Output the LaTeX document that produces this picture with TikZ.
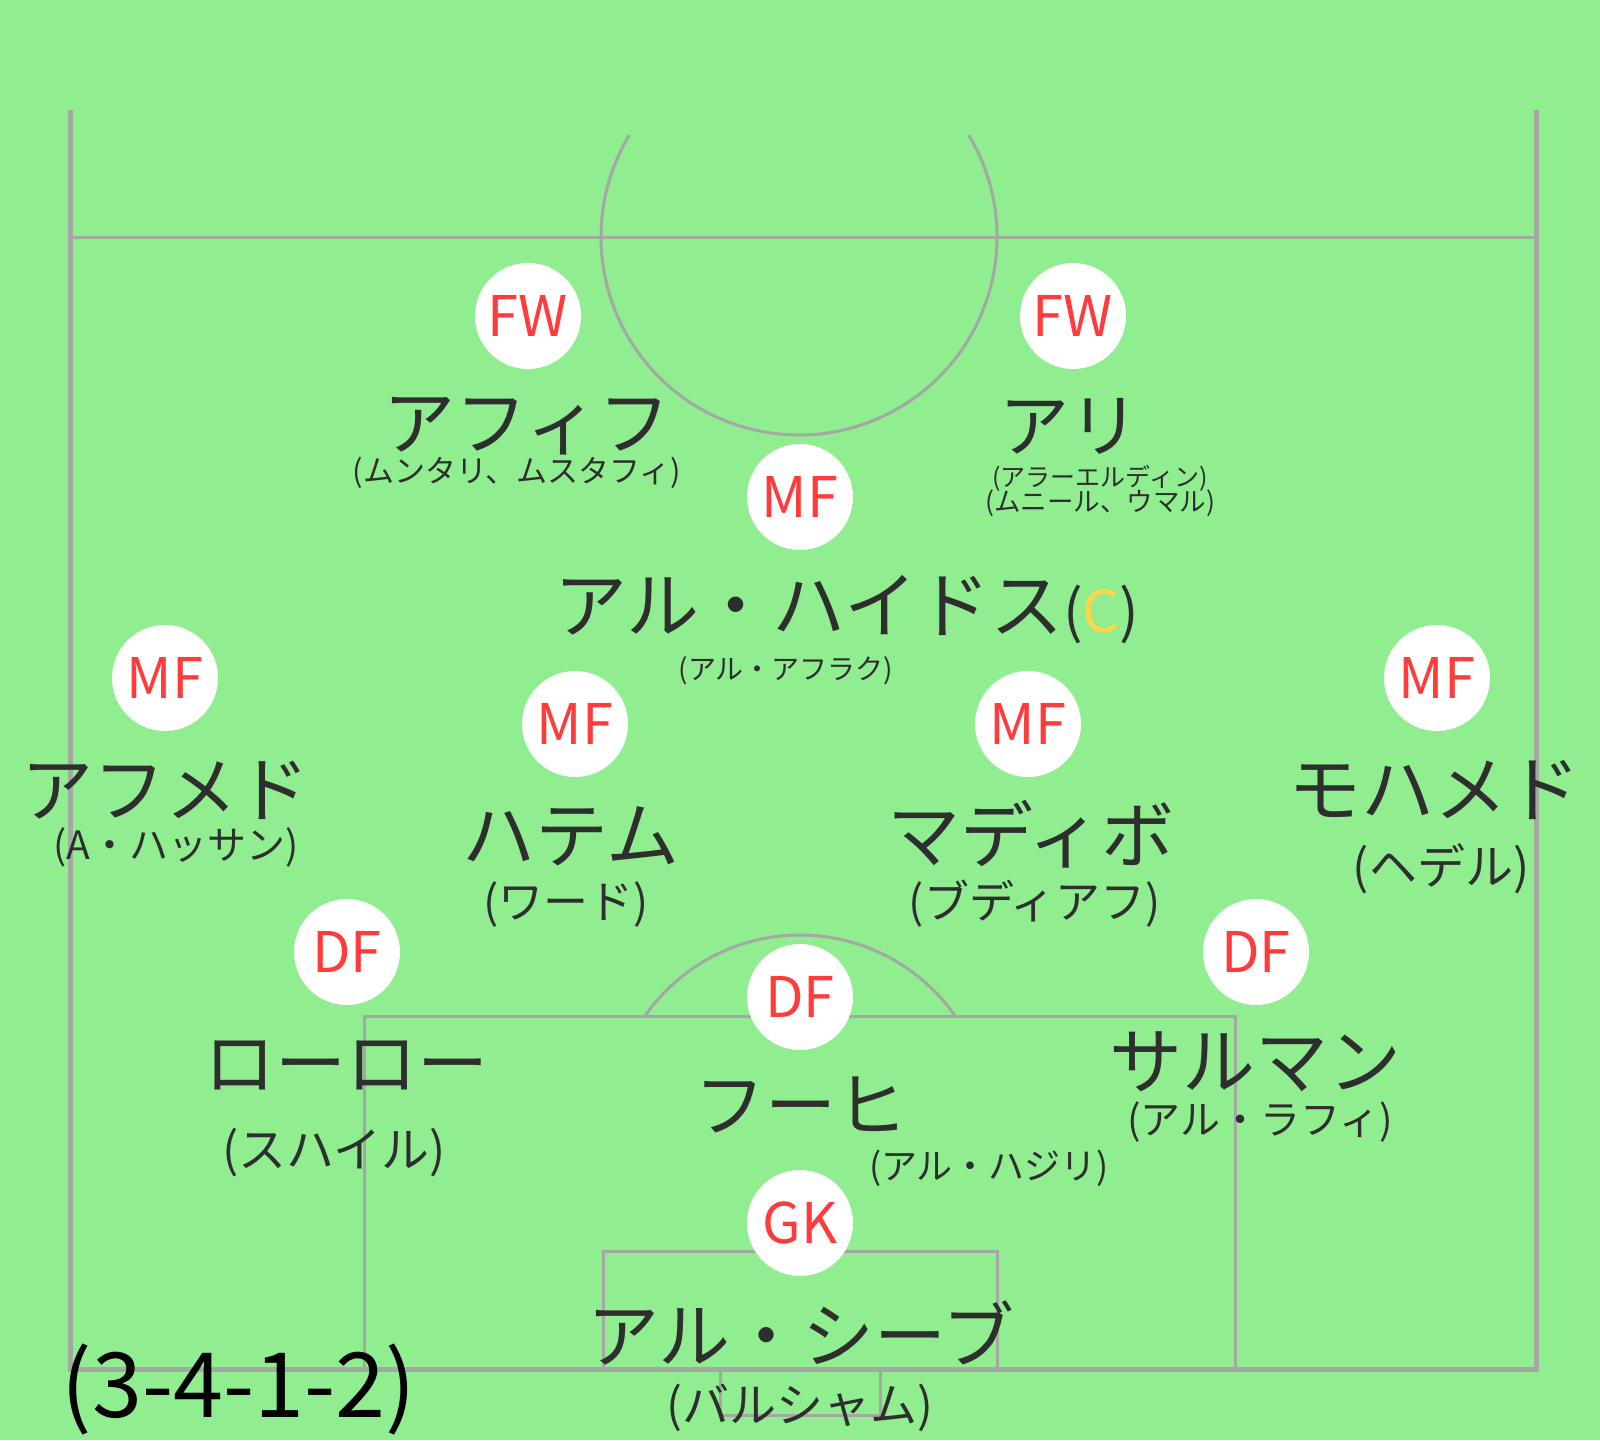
\documentclass[tikz,border=0pt]{standalone}
\usepackage{fontspec}
\setmainfont{Noto Sans CJK JP}
\definecolor{pitch}{HTML}{90EE90}
\definecolor{pline}{HTML}{A3A8A3}
\definecolor{posred}{HTML}{FF3B3B}
\definecolor{namecol}{HTML}{2E2E2E}
\definecolor{capt}{HTML}{FFD54A}
\tikzset{
  posdisc/.style={circle, fill=white, minimum size=106pt, inner sep=0pt, text=posred, font=\fontsize{56}{56}\selectfont},
  bigname/.style={text=namecol, font=\fontsize{#1}{#1}\selectfont, inner sep=0pt, text height={0.84*#1pt}, text depth={0.08*#1pt}},
  bigname/.default=72,
  subname/.style={text=namecol, font=\fontsize{#1}{#1}\selectfont, inner sep=0pt, text height={0.82*#1pt}, text depth={0.06*#1pt}},
  fieldline/.style={draw=pline, line width=3pt},
  outerline/.style={draw=pline, line width=5pt}
}
\begin{document}
\begin{tikzpicture}[x=1pt,y=-1pt]
\fill[pitch] (0,0) rectangle (1600,1440);
\useasboundingbox (0,0) rectangle (1600,1440);
% pitch markings
\draw[outerline] (70,110) -- (70,1369) -- (1536,1369) -- (1536,110);
\draw[fieldline] (70,237) -- (1536,237);
\draw[fieldline] (968.7,135) arc[start angle=-31, end angle=211, radius=198];
\draw[fieldline] (364,1369) -- (364,1016) -- (1235,1016) -- (1235,1369);
\draw[fieldline] (603,1369) -- (603,1251) -- (997,1251) -- (997,1369);
\draw[fieldline] (720,1371) -- (720,1415) -- (880,1415) -- (880,1371);
\draw[fieldline] (645.2,1015.6) arc[start angle=-145, end angle=-35, radius=189];
% players
\node[posdisc] (fwl) at (528,316) {FW};
\node[bigname] (nfwl) at (527,422) {アフィフ};
\node[subname=31] (sfwl) at (517,471) {(ムンタリ、ムスタフィ)};

\node[posdisc] (fwr) at (1073,316) {FW};
\node[bigname=70] (nfwr) at (1069,425) {アリ};
\node[subname=25] (sfwr) at (1100,477) {(アラーエルディン)};
\node[subname=26.5] (sfwrb) at (1100,501) {(ムニール、ウマル)};

\node[posdisc] (amf) at (800,497) {MF};
\node[bigname=73] (namf) at (847,605) {アル・ハイドス{\fontsize{58}{58}\selectfont (\textcolor{capt}{C})}};
\node[subname=28] (samf) at (786,669) {(アル・アフラク)};

\node[posdisc] (lmf) at (165,678) {MF};
\node[bigname] (nlmf) at (165,789) {アフメド};
\node[subname=39] (slmf) at (176,845) {(A・ハッサン)};

\node[posdisc] (lcm) at (575,724) {MF};
\node[bigname=73] (nlcm) at (571,835) {ハテム};
\node[subname=45] (slcm) at (566,901) {(ワード)};

\node[posdisc] (rcm) at (1028,724) {MF};
\node[bigname=73] (nrcm) at (1031,835) {マディボ};
\node[subname=45] (srcm) at (1035,901) {(ブディアフ)};

\node[posdisc] (rmf) at (1437,678) {MF};
\node[bigname=73] (nrmf) at (1434,789) {モハメド};
\node[subname=48] (srmf) at (1441,866) {(ヘデル)};

\node[posdisc] (ldf) at (347,952) {DF};
\node[bigname=71] (nldf) at (346,1063) {ローロー};
\node[subname=48] (sldf) at (334,1149) {(スハイル)};

\node[posdisc] (cdf) at (800,997) {DF};
\node[bigname=71] (ncdf) at (801,1105) {フーヒ};
\node[subname=36] (scdf) at (989,1166) {(アル・ハジリ)};

\node[posdisc] (rdf) at (1256,952) {DF};
\node[bigname=73] (nrdf) at (1255,1061) {サルマン};
\node[subname=40] (srdf) at (1260,1119) {(アル・ラフィ)};

\node[posdisc] (gk) at (800,1223) {GK};
\node[bigname] (ngk) at (801,1335) {アル・シーブ};
\node[subname=47] (sgk) at (800,1405) {(バルシャム)};

\node[text=black, font=\fontsize{90}{90}\selectfont, inner sep=0pt] (form) at (239,1389) {(3-4-1-2)};
\end{tikzpicture}
\end{document}
